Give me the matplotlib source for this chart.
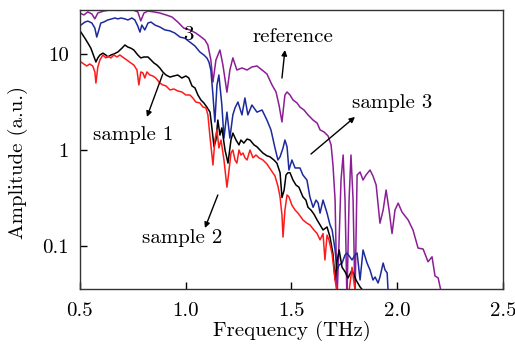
import matplotlib
matplotlib.use('Agg')
import matplotlib.pyplot as plt
from matplotlib.ticker import NullLocator

plt.rcParams['font.family'] = 'cmr10'
plt.rcParams['mathtext.fontset'] = 'cm'
plt.rcParams['axes.formatter.use_mathtext'] = True

# reference spectrum (purple)
ref_freq = [0.500, 0.519, 0.538, 0.557, 0.571, 0.585, 0.613, 0.642, 0.670, 0.699, 0.727, 0.755,
            0.774, 0.788, 0.803, 0.822, 0.850, 0.878, 0.907, 0.935, 0.963, 0.991, 1.020, 1.048,
            1.067, 1.091, 1.105, 1.119, 1.129, 1.143, 1.162, 1.176, 1.195, 1.209, 1.223, 1.242,
            1.266, 1.290, 1.313, 1.337, 1.361, 1.384, 1.408, 1.427, 1.441, 1.455, 1.469, 1.479,
            1.493, 1.507, 1.526, 1.540, 1.559, 1.578, 1.602, 1.621, 1.635, 1.654, 1.673, 1.687,
            1.696, 1.706, 1.715, 1.725, 1.734, 1.744, 1.753, 1.762, 1.772, 1.781, 1.791, 1.800,
            1.810, 1.824, 1.838, 1.852, 1.871, 1.885, 1.900, 1.918, 1.933, 1.947, 1.961, 1.975,
            1.989, 2.004, 2.022, 2.051, 2.074, 2.098, 2.122, 2.145, 2.164, 2.178, 2.193, 2.207]
ref_amp = [26.7, 25.5, 27.4, 26.1, 23.2, 26.7, 28.0, 28.7, 28.5, 28.5, 28.8, 28.5,
           27.4, 22.1, 26.7, 28.0, 27.4, 26.7, 25.5, 24.3, 21.5, 18.6, 17.8, 16.5,
           15.4, 14.0, 12.4, 8.66, 5.1, 8.66, 11.0, 7.68, 4.0, 6.81, 9.1, 6.81,
           7.15, 6.81, 7.32, 7.5, 6.81, 6.19, 4.76, 4.02, 2.94, 1.96, 3.74, 4.02,
           3.74, 3.32, 3.09, 2.80, 2.61, 2.32, 2.05, 1.91, 1.62, 1.54, 1.40, 1.13,
           0.698, 0.301, 0.0275, 0.116, 0.487, 0.887, 0.301, 0.0275, 0.301, 0.887, 0.301, 0.0275,
           0.549, 0.59, 0.487, 0.549, 0.619, 0.536, 0.432, 0.173, 0.237, 0.383, 0.237, 0.135,
           0.237, 0.28, 0.226, 0.187, 0.147, 0.0953, 0.093, 0.0686, 0.0772, 0.0488, 0.0465, 0.0333]

# sample 3 (blue)
s3_freq = [0.505, 0.524, 0.538, 0.557, 0.571, 0.580, 0.590, 0.599, 0.613, 0.632, 0.651, 0.665,
           0.680, 0.694, 0.713, 0.727, 0.746, 0.760, 0.774, 0.784, 0.793, 0.807, 0.822, 0.836,
           0.855, 0.878, 0.902, 0.926, 0.949, 0.973, 0.996, 1.020, 1.044, 1.067, 1.086, 1.100,
           1.110, 1.119, 1.129, 1.138, 1.148, 1.157, 1.171, 1.181, 1.195, 1.209, 1.223, 1.233,
           1.247, 1.266, 1.280, 1.294, 1.313, 1.337, 1.361, 1.384, 1.403, 1.422, 1.436, 1.446,
           1.460, 1.469, 1.479, 1.488, 1.502, 1.517, 1.540, 1.554, 1.573, 1.587, 1.602, 1.616,
           1.626, 1.635, 1.649, 1.668, 1.682, 1.692, 1.706, 1.715, 1.725, 1.739, 1.753, 1.762,
           1.777, 1.786, 1.800, 1.810, 1.824, 1.838, 1.857, 1.871, 1.885, 1.895, 1.909, 1.918,
           1.933, 1.942, 1.952, 1.956]
s3_amp = [20.0, 21.5, 22.0, 21.0, 18.6, 15.0, 17.8, 21.0, 21.5, 22.6, 23.2, 23.7,
          23.2, 23.7, 23.2, 22.6, 23.7, 22.6, 19.5, 16.9, 20.0, 17.8, 21.0, 21.5,
          20.0, 19.1, 17.8, 17.4, 16.5, 15.0, 14.6, 13.3, 12.1, 10.5, 9.76, 9.1,
          8.25, 6.81, 3.74, 1.96, 4.76, 6.04, 2.94, 1.33, 2.48, 1.33, 2.32, 2.74,
          3.16, 2.32, 3.48, 2.32, 2.94, 2.48, 2.61, 2.05, 1.62, 1.05, 0.787, 0.85,
          1.05, 1.27, 1.08, 0.619, 0.787, 0.65, 0.65, 0.549, 0.487, 0.325, 0.253, 0.301,
          0.28, 0.22, 0.301, 0.22, 0.166, 0.147, 0.0909, 0.0563, 0.0635, 0.0665, 0.0807, 0.0846,
          0.0764, 0.0716, 0.0807, 0.0846, 0.0443, 0.0909, 0.0665, 0.0563, 0.0443, 0.0476, 0.0412, 0.0476,
          0.0665, 0.0563, 0.0525, 0.0349]

# sample 1 (black)
s1_freq = [0.505, 0.524, 0.538, 0.552, 0.566, 0.576, 0.585, 0.595, 0.609, 0.623, 0.632, 0.647,
           0.661, 0.680, 0.699, 0.713, 0.727, 0.741, 0.755, 0.774, 0.788, 0.803, 0.822, 0.836,
           0.850, 0.864, 0.878, 0.892, 0.907, 0.926, 0.944, 0.963, 0.982, 1.001, 1.015, 1.030,
           1.044, 1.058, 1.072, 1.086, 1.100, 1.115, 1.124, 1.134, 1.143, 1.152, 1.162, 1.171,
           1.186, 1.200, 1.214, 1.223, 1.238, 1.252, 1.261, 1.275, 1.290, 1.304, 1.323, 1.337,
           1.351, 1.365, 1.384, 1.398, 1.417, 1.431, 1.446, 1.455, 1.465, 1.474, 1.483, 1.493,
           1.507, 1.521, 1.535, 1.554, 1.568, 1.578, 1.592, 1.606, 1.621, 1.635, 1.649, 1.668,
           1.682, 1.696, 1.706, 1.715, 1.725, 1.739, 1.753, 1.767, 1.786, 1.805, 1.824, 1.843]
s1_amp = [16.9, 14.6, 13.0, 11.5, 9.5, 8.25, 9.1, 9.76, 10.2, 9.76, 9.3, 9.76,
          10.0, 10.5, 11.5, 12.4, 11.8, 11.5, 11.0, 9.76, 9.1, 9.3, 9.3, 8.66,
          8.06, 7.68, 7.15, 6.5, 6.04, 5.75, 5.9, 6.04, 5.62, 5.9, 5.62, 4.65,
          4.43, 3.74, 3.32, 3.09, 2.80, 2.48, 1.70, 1.08, 1.27, 2.05, 1.43, 1.70,
          1.0, 0.73, 1.27, 1.50, 1.27, 1.13, 1.27, 1.18, 1.30, 1.27, 1.13, 1.08,
          1.0, 0.93, 0.87, 0.85, 0.787, 0.73, 0.58, 0.32, 0.38, 0.549, 0.58, 0.58,
          0.487, 0.432, 0.41, 0.325, 0.301, 0.253, 0.237, 0.215, 0.187, 0.166, 0.147, 0.158,
          0.124, 0.0826, 0.0443, 0.0686, 0.0909, 0.06, 0.054, 0.0465, 0.0563, 0.0443, 0.0375, 0.0333]

# sample 2 (red)
s2_freq = [0.505, 0.519, 0.533, 0.547, 0.561, 0.571, 0.576, 0.585, 0.595, 0.609, 0.623, 0.632,
           0.647, 0.661, 0.675, 0.689, 0.708, 0.722, 0.741, 0.755, 0.770, 0.779, 0.788, 0.798,
           0.807, 0.817, 0.831, 0.845, 0.859, 0.878, 0.892, 0.907, 0.926, 0.944, 0.963, 0.982,
           1.001, 1.020, 1.034, 1.048, 1.067, 1.082, 1.096, 1.105, 1.115, 1.129, 1.138, 1.148,
           1.157, 1.167, 1.181, 1.195, 1.205, 1.214, 1.223, 1.233, 1.242, 1.252, 1.261, 1.271,
           1.280, 1.290, 1.304, 1.318, 1.332, 1.346, 1.365, 1.384, 1.403, 1.422, 1.436, 1.446,
           1.455, 1.460, 1.469, 1.479, 1.488, 1.502, 1.517, 1.531, 1.554, 1.573, 1.587, 1.606,
           1.621, 1.635, 1.649, 1.658, 1.668, 1.677, 1.692, 1.706, 1.720, 1.748, 1.767, 1.786,
           1.800, 1.810]
s2_amp = [8.25, 7.86, 7.5, 7.86, 7.5, 6.5, 4.98, 7.32, 8.66, 9.76, 9.1, 9.5,
          9.1, 9.76, 9.3, 9.76, 9.1, 8.66, 8.06, 7.68, 6.81, 4.76, 6.5, 6.35,
          5.62, 6.5, 6.04, 5.9, 5.62, 4.98, 4.76, 4.65, 4.22, 4.32, 4.12, 4.02,
          3.74, 3.74, 3.48, 3.16, 3.09, 2.80, 2.74, 2.32, 1.37, 0.698, 1.27, 1.62,
          1.05, 1.27, 0.787, 0.41, 0.619, 0.93, 1.0, 0.787, 0.73, 1.0, 0.887, 0.93,
          0.83, 0.787, 1.0, 0.83, 0.887, 0.83, 0.787, 0.715, 0.619, 0.536, 0.42, 0.325,
          0.21, 0.124, 0.237, 0.34, 0.325, 0.267, 0.237, 0.22, 0.187, 0.173, 0.166, 0.147,
          0.135, 0.116, 0.135, 0.0716, 0.130, 0.116, 0.0826, 0.0443, 0.0275, 0.0275, 0.0275, 0.06,
          0.0349, 0.0275]

fig = plt.figure(figsize=(5.15, 3.45), dpi=100)
ax = fig.add_axes([0.155, 0.162, 0.822, 0.809])

lw = 1.1
ax.plot(ref_freq, ref_amp, color='#8b1e96', lw=lw)
ax.plot(s3_freq, s3_amp, color='#1c2a9c', lw=lw)
ax.plot(s1_freq, s1_amp, color='black', lw=lw)
ax.plot(s2_freq, s2_amp, color='#ff1a1a', lw=lw)

ax.set_yscale('log')
ax.set_xlim(0.5, 2.5)
ax.set_ylim(0.0356, 28.7)
ax.set_xticks([0.5, 1.0, 1.5, 2.0, 2.5], labels=['0.5', '1.0', '1.5', '2.0', '2.5'])
ax.set_yticks([0.1, 1, 10], labels=['0.1', '1', '10'])
ax.yaxis.set_minor_locator(NullLocator())
ax.tick_params(direction='in', length=5, width=1, labelsize=15)
ax.tick_params(axis='x', pad=9)
ax.tick_params(axis='y', pad=8)

for sp in ax.spines.values():
    sp.set_color('#333333')
    sp.set_linewidth(1.0)

ax.set_xlabel('Frequency (THz)', fontsize=15)
ax.set_ylabel('Amplitude (a.u.)', fontsize=15)
ax.xaxis.set_label_coords(0.5, -0.115)
ax.yaxis.set_label_coords(-0.123, 0.452)

arrow = dict(arrowstyle='-|>', color='black', lw=1.0, mutation_scale=8, shrinkA=0, shrinkB=0)
ax.text(1.507, 15.0, 'reference', fontsize=15, ha='center', va='center')
ax.annotate('', xy=(1.469, 11.0), xytext=(1.455, 5.62), arrowprops=arrow)
ax.text(1.975, 3.09, 'sample 3', fontsize=15, ha='center', va='center')
ax.annotate('', xy=(1.800, 2.21), xytext=(1.592, 0.908), arrowprops=arrow)
ax.text(0.751, 1.43, 'sample 1', fontsize=15, ha='center', va='center')
ax.annotate('', xy=(0.817, 2.21), xytext=(0.892, 6.19), arrowprops=arrow)
ax.text(0.982, 0.121, 'sample 2', fontsize=15, ha='center', va='center')
ax.annotate('', xy=(1.091, 0.154), xytext=(1.152, 0.34), arrowprops=arrow)
ax.text(1.011, 15.8, '3', fontsize=15, ha='center', va='center')

fig.savefig('out.png', dpi=100)
